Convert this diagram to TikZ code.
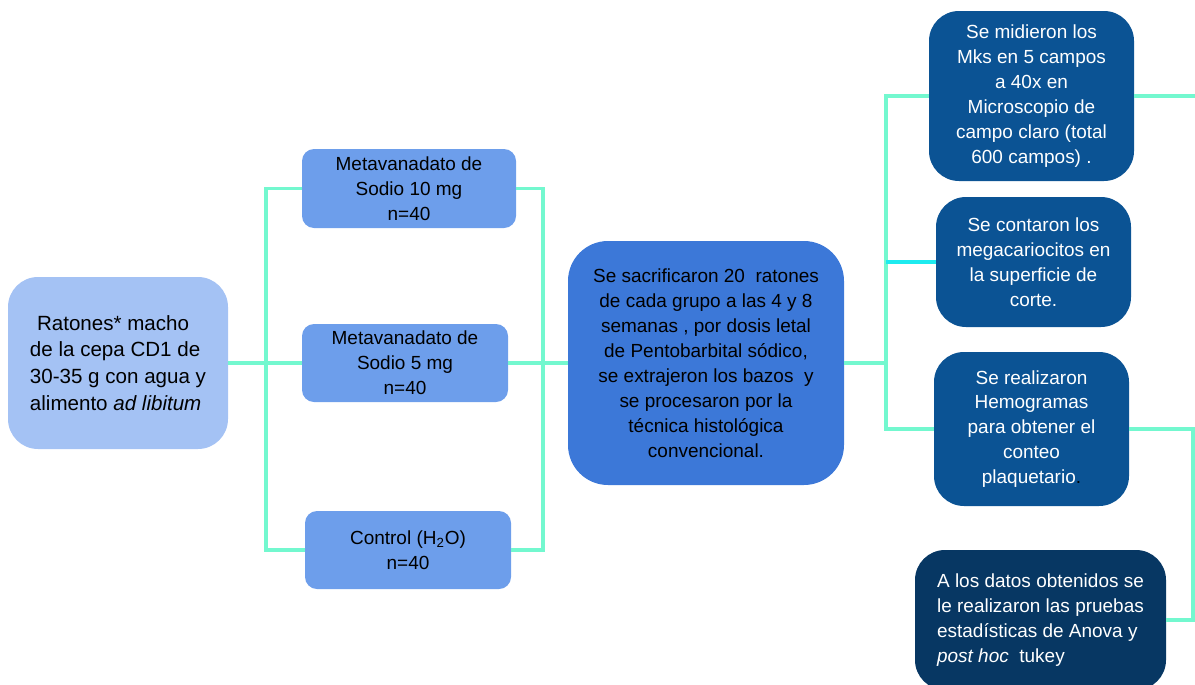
\documentclass[tikz,border=0pt]{standalone}
\usepackage{fontspec}
\setmainfont{Liberation Sans}
\usetikzlibrary{calc}
\definecolor{grpA}{HTML}{A4C2F4}
\definecolor{grpB}{HTML}{6D9EEB}
\definecolor{grpC}{HTML}{3C78D8}
\definecolor{grpD}{HTML}{0B5394}
\definecolor{grpE}{HTML}{073763}
\definecolor{aqua}{HTML}{73F8CF}
\definecolor{aquab}{HTML}{1DEBEF}
\begin{document}
\begin{tikzpicture}[
  font=\fontsize{10.8}{14.2}\selectfont,
  box/.style={fill=#1, rounded corners=0.24cm, align=center, inner sep=2pt},
  box/.default=grpB,
  dbox/.style={fill=#1, rounded corners=0.6cm, align=center, inner sep=2pt, text=white},
  dbox/.default=grpD,
  conn/.style={draw=aqua, line width=2.1pt}]
\useasboundingbox (0,0) rectangle (23.9,-13.68);
\node[box=grpA, rounded corners=0.6cm, align=left, minimum width=4.4cm, minimum height=3.44cm, font=\fontsize{11.7}{15.3}\selectfont] (rat) at (2.36,-7.26) {\hspace{4pt}Ratones* macho\\de la cepa CD1 de\\30-35 g con agua y\\alimento \textit{ad libitum}};
\node[box, minimum width=4.28cm, minimum height=1.58cm] (m10) at (8.18,-3.77) {Metavanadato de\\Sodio 10 mg\\n=40};
\node[box, minimum width=4.12cm, minimum height=1.56cm] (m5) at (8.10,-7.26) {Metavanadato de\\Sodio 5 mg\\n=40};
\node[box, minimum width=4.12cm, minimum height=1.56cm] (ctl) at (8.16,-11.0) {Control (H\textsubscript{2}O)\\n=40};
\node[box=grpC, rounded corners=0.8cm, minimum width=5.52cm, minimum height=4.88cm] (cen) at (14.12,-7.26) {Se sacrificaron 20\ \ ratones\\de cada grupo a las 4 y 8\\semanas , por dosis letal\\de Pentobarbital sódico,\\se extrajeron los bazos\ \ y\\se procesaron por la\\técnica histológica\\convencional.};
\node[dbox, minimum width=4.1cm, minimum height=3.4cm] (mks) at (20.63,-1.92) {Se midieron los\\Mks en 5 campos\\a 40x en\\Microscopio de\\campo claro (total\\600 campos) .};
\node[dbox, minimum width=3.9cm, minimum height=2.6cm] (con) at (20.67,-5.24) {Se contaron los\\megacariocitos en\\la superficie de\\corte.};
\node[dbox, minimum width=3.9cm, minimum height=3.08cm] (hem) at (20.63,-8.58) {Se realizaron\\Hemogramas\\para obtener el\\conteo\\plaquetario\textcolor{black}{.}};
\node[dbox=grpE, align=left, minimum width=5.02cm, minimum height=2.8cm] (dat) at (20.81,-12.4) {A los datos obtenidos se\\le realizaron las pruebas\\estadísticas de Anova y\\\textit{post hoc}\ \ tukey};
\coordinate (jl) at (5.32,0);
\coordinate (jr) at (10.86,0);
\coordinate (jm) at (17.72,0);
\coordinate (jx) at (23.86,0);
\coordinate (mkse) at (23.95,-1.92);
\draw[conn] (rat.east) -- (m5.west);
\draw[conn] (m10.west) -- (m10.west-|jl) |- (ctl.west);
\draw[conn] (m5.east) -- (cen.west);
\draw[conn] (m10.east) -- (m10.east-|jr) |- (ctl.east);
\draw[conn] (cen.east) -- (cen.east-|jm);
\draw[conn] (mks.west) -- (mks.west-|jm) |- (hem.west);
\draw[conn, draw=aquab] (con.west) -- (con.west-|jm);
\draw[conn] (mks.east) -- (mkse);
\draw[conn] (hem.east) -- (hem.east-|jx) |- (dat.east);
\end{tikzpicture}
\end{document}
